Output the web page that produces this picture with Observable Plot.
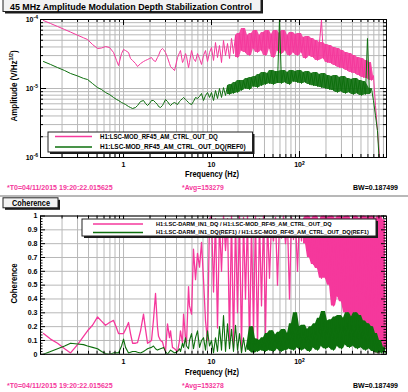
<!DOCTYPE html>
<html><head><meta charset="utf-8">
<script src="https://cdn.jsdelivr.net/npm/d3@7"></script>
<script src="https://cdn.jsdelivr.net/npm/@observablehq/plot@0.6"></script>
<style>
html,body{margin:0;padding:0;background:#fff;}
#wrap{position:relative;width:408px;height:392px;overflow:hidden;}
#wrap svg{position:absolute;left:0;}
</style></head><body><div id="wrap"></div>
<script>
// ---------------- data ----------------
const freqHz = [
0.123,0.148,0.178,0.214,0.250,0.300,0.351,0.390,0.444,0.507,
0.562,0.624,0.693,0.770,0.833,0.877,0.949,1.000,1.054,1.140,
1.200,1.266,1.369,1.443,1.561,1.687,1.778,1.874,1.974,2.080,
2.190,2.310,2.430,2.500,2.630,2.770,2.850,3.000,3.160,3.330,
3.420,3.600,3.800,4.110,4.330,4.440,4.680,4.810,5.070,5.200,
5.480,5.620,5.930,6.240,6.580,6.930,7.310,7.700,8.110,8.550,
9.010,9.490,
10.00,10.54,11.10,11.70,12.33,12.99,13.69,14.43,15.20,16.02,
16.88,17.78,18.74,19.74,20.81,21.93,23.10,24.34,25.65,27.03,
28.48,30.01,31.62,33.32,35.11,37.00,38.99,41.08,43.29,45.61,
48.06,50.65,53.37,56.23,59.25,62.43,65.79,69.32,73.05,76.97,
81.11,85.46,90.06,94.90,100.0,105.4,111.0,117.0,123.3,129.9,
136.9,144.3,152.0,160.2,168.8,177.8,187.4,197.4,208.1,219.3,
231.0,243.4,256.5,270.3,284.8,300.1,316.2,333.2,351.1,370.0,
389.9,410.8,432.9,456.1,480.6,506.5,533.7,562.3,592.5,624.3,
657.9,693.2,730.5,769.7,811.1,854.6,900.6,949.0];

// Amplitude, V/sqrt(Hz): H1:LSC-MOD_RF45_AM_CTRL_OUT_DQ
const ampCtrlOut = [
9.67e-5,8.75e-5,7.92e-5,7.16e-5,6.57e-5,5.92e-5,5.43e-5,5.13e-5,4.34e-5,3.80e-5,
3.86e-5,4.06e-5,3.93e-5,3.32e-5,2.55e-5,2.15e-5,3.21e-5,3.67e-5,3.55e-5,3.32e-5,
2.72e-5,2.55e-5,2.30e-5,2.08e-5,2.30e-5,2.46e-5,2.55e-5,2.63e-5,2.72e-5,2.81e-5,
2.55e-5,2.46e-5,2.81e-5,3.01e-5,3.55e-5,3.80e-5,3.67e-5,3.32e-5,2.81e-5,2.30e-5,
2.08e-5,1.95e-5,1.82e-5,2.81e-5,3.32e-5,3.55e-5,2.38e-5,2.55e-5,3.21e-5,2.91e-5,
2.01e-5,2.38e-5,3.55e-5,2.72e-5,2.46e-5,3.21e-5,2.72e-5,2.23e-5,3.01e-5,3.55e-5,
2.46e-5,3.32e-5,
3.93e-5,2.55e-5,4.64e-5,2.81e-5,4.20e-5,2.38e-5,4.96e-5,3.01e-5,4.49e-5,2.72e-5,
5.31e-5,3.21e-5,5.86e-5,2.81e-5,6.27e-5,3.55e-5,7.41e-5,3.32e-5,5.86e-5,3.01e-5,
6.27e-5,3.80e-5,6.93e-5,3.32e-5,5.86e-5,3.55e-5,6.48e-5,3.01e-5,6.93e-5,3.80e-5,
6.06e-5,2.81e-5,6.93e-5,3.55e-5,6.27e-5,3.21e-5,6.93e-5,3.55e-5,5.86e-5,3.01e-5,
6.48e-5,3.32e-5,6.06e-5,3.01e-5,6.27e-5,3.32e-5,5.48e-5,2.72e-5,5.67e-5,3.01e-5,
5.31e-5,2.81e-5,4.96e-5,2.55e-5,4.64e-5,1.00e-4,2.72e-5,4.34e-5,2.38e-5,4.20e-5,
2.30e-5,3.93e-5,2.15e-5,3.80e-5,2.01e-5,3.55e-5,1.95e-5,3.32e-5,1.82e-5,3.21e-5,
1.71e-5,3.01e-5,1.65e-5,2.81e-5,1.54e-5,2.72e-5,1.44e-5,2.55e-5,1.40e-5,2.38e-5,
1.31e-5,1.54e-5,5.67e-6,2.46e-6,1.07e-6,5.48e-7,3.93e-7,3.32e-7];

// Amplitude, V/sqrt(Hz): H1:LSC-MOD_RF45_AM_CTRL_OUT_DQ(REF0)
const ampCtrlOutRef0 = [
2.46e-5,2.23e-5,2.01e-5,1.82e-5,1.65e-5,1.52e-5,1.40e-5,1.35e-5,1.18e-5,1.03e-5,
9.67e-6,8.75e-6,8.18e-6,7.41e-6,6.93e-6,6.70e-6,6.27e-6,6.06e-6,5.86e-6,5.48e-6,
5.30e-6,5.13e-6,5.30e-6,5.67e-6,6.48e-6,6.70e-6,6.06e-6,5.67e-6,6.06e-6,6.70e-6,
6.70e-6,6.27e-6,5.86e-6,5.48e-6,5.30e-6,5.67e-6,6.06e-6,6.93e-6,6.48e-6,5.86e-6,
5.67e-6,6.06e-6,6.27e-6,5.86e-6,6.48e-6,6.70e-6,7.16e-6,7.41e-6,6.93e-6,6.70e-6,
6.27e-6,6.06e-6,5.86e-6,6.48e-6,7.41e-6,7.16e-6,7.66e-6,8.46e-6,6.70e-6,7.92e-6,
8.75e-6,7.41e-6,
8.75e-6,6.70e-6,9.35e-6,7.16e-6,1.00e-5,7.41e-6,1.03e-5,7.92e-6,1.10e-5,8.18e-6,
1.14e-5,8.46e-6,1.22e-5,8.75e-6,1.31e-5,9.35e-6,1.31e-5,1.00e-5,1.40e-5,9.67e-6,
1.44e-5,1.07e-5,1.49e-5,1.03e-5,1.60e-5,1.10e-5,1.71e-5,1.14e-5,1.65e-5,1.18e-5,
1.82e-5,1.14e-5,1.76e-5,1.22e-5,1.00e-4,1.18e-5,1.82e-5,1.22e-5,1.71e-5,1.14e-5,
1.82e-5,1.26e-5,1.76e-5,1.22e-5,1.82e-5,1.18e-5,1.71e-5,1.22e-5,1.76e-5,1.14e-5,
1.65e-5,1.10e-5,1.71e-5,1.07e-5,1.60e-5,1.03e-5,1.65e-5,1.00e-5,1.54e-5,9.67e-6,
1.49e-5,9.35e-6,1.54e-5,8.75e-6,1.44e-5,9.05e-6,1.49e-5,8.46e-6,1.40e-5,8.75e-6,
1.35e-5,8.18e-6,1.40e-5,8.46e-6,1.31e-5,7.92e-6,1.26e-5,8.18e-6,5.31e-5,8.46e-6,
1.00e-5,6.70e-6,4.06e-6,2.46e-6,7.66e-7,3.32e-7,3.32e-7,3.32e-7];

// Coherence: H1:LSC-DARM_IN1_DQ / H1:LSC-MOD_RF45_AM_CTRL_OUT_DQ
const cohDarmCtrl = [
0.15,0.11,0.08,0.04,0.01,0.07,0.13,0.17,0.21,0.27,
0.24,0.21,0.23,0.245,0.19,0.15,0.15,0.15,0.18,0.23,
0.15,0.08,0.08,0.085,0.17,0.29,0.18,0.08,0.09,0.10,
0.25,0.44,0.20,0.13,0.10,0.09,0.06,0.02,0.22,0.12,
0.17,0.05,0.04,0.02,0.10,0.17,0.08,0.29,0.12,0.08,
0.49,0.35,0.29,0.76,0.54,0.73,0.63,0.81,0.54,0.24,
0.10,0.98,
1.00,0.45,0.98,0.19,0.95,0.60,1.00,0.75,0.98,0.10,
1.00,0.05,0.97,0.30,1.00,0.02,0.99,0.40,1.00,0.03,
0.95,0.15,1.00,0.05,0.98,0.35,1.00,0.15,0.97,0.55,
0.95,0.82,0.99,0.50,0.96,0.84,1.00,0.80,0.95,0.40,
0.99,0.83,0.97,0.60,1.00,0.82,0.98,0.80,1.00,0.70,
0.98,0.65,1.00,0.62,0.97,0.55,1.00,0.55,0.99,0.50,
1.00,0.35,0.98,0.42,1.00,0.38,0.99,0.30,1.00,0.28,
0.97,0.20,1.00,0.20,0.98,0.15,1.00,0.10,0.99,0.06,
1.00,0.03,0.98,0.01,1.00,0.02,0.97,0.05];

// Coherence: H1:LSC-DARM_IN1_DQ(REF1) / H1:LSC-MOD_RF45_AM_CTRL_OUT_DQ(REF1)
const cohDarmCtrlRef1 = [
0.00,0.02,0.04,0.06,0.08,0.075,0.07,0.06,0.05,0.04,
0.02,0.005,0.00,0.01,0.01,0.01,0.06,0.11,0.05,0.01,
0.015,0.02,0.02,0.015,0.01,0.02,0.03,0.04,0.045,0.05,
0.06,0.04,0.03,0.035,0.04,0.045,0.05,0.02,0.00,0.02,
0.03,0.02,0.01,0.02,0.04,0.02,0.08,0.05,0.12,0.06,
0.04,0.10,0.15,0.04,0.12,0.17,0.05,0.10,0.12,0.03,
0.17,0.06,
0.10,0.01,0.12,0.02,0.20,0.03,0.28,0.02,0.22,0.04,
0.18,0.02,0.21,0.03,0.15,0.01,0.12,0.02,0.10,0.03,
0.20,0.01,0.11,0.02,0.10,0.03,0.12,0.02,0.15,0.03,
0.17,0.02,0.14,0.04,0.16,0.02,0.18,0.03,0.15,0.04,
0.22,0.03,0.30,0.05,0.20,0.03,0.21,0.04,0.18,0.02,
0.20,0.05,0.22,0.03,0.26,0.06,0.31,0.04,0.24,0.05,
0.25,0.03,0.27,0.06,0.28,0.04,0.26,0.07,0.30,0.05,
0.27,0.06,0.30,0.04,0.28,0.05,0.24,0.03,0.22,0.04,
0.20,0.02,0.15,0.01,0.10,0.01,0.05,0.01];

const freqTicks = [1, 10, 100];
const freqTickLabels = ["1", "10", "10^2"];
const ampTicks = [1e-4, 1e-5, 1e-6];
const ampTickLabels = ["10^-4", "10^-5", "10^-6"];
const cohTicks = [0, 0.1, 0.2, 0.3, 0.4, 0.5, 0.6, 0.7, 0.8, 0.9, 1];
const cohTickLabels = ["0", "0.1", "0.2", "0.3", "0.4", "0.5", "0.6", "0.7", "0.8", "0.9", "1"];
const legendAmp = ["H1:LSC-MOD_RF45_AM_CTRL_OUT_DQ", "H1:LSC-MOD_RF45_AM_CTRL_OUT_DQ(REF0)"];
const legendCoh = ["H1:LSC-DARM_IN1_DQ / H1:LSC-MOD_RF45_AM_CTRL_OUT_DQ",
                   "H1:LSC-DARM_IN1_DQ(REF1) / H1:LSC-MOD_RF45_AM_CTRL_OUT_DQ(REF1)"];
const texts = {
  title: "45 MHz Amplitude Modulation Depth Stabilization Control",
  cohTitle: "Coherence",
  ampAxis: "Amplitude (V/Hz",
  ampAxisSup: "1/2",
  cohAxis: "Coherence",
  freqAxis: "Frequency (Hz)",
  t0: "*T0=04/11/2015 19:20:22.015625",
  avgAmp: "*Avg=153279",
  avgCoh: "*Avg=153278",
  bw: "BW=0.187499"
};

// ---------------- style ----------------
const FONT = '"Liberation Sans", Arial, Helvetica, sans-serif';
const PINK = "#f5389c";
const GREEN = "#0d6f0d";
const GRID = "#b8b8b8";
const xDomain = [0.1138, 975];

const rows = freqHz.map((f, i) => ({
  f, ampCur: ampCtrlOut[i], ampRef: ampCtrlOutRef0[i],
  cohCur: cohDarmCtrl[i], cohRef: cohDarmCtrlRef1[i]
}));

const xMinor = [];
for (const dec of [0.1, 1, 10, 100]) for (let m = 2; m <= 9; m++) {
  const v = +(m * dec).toPrecision(3);
  if (v > xDomain[0] && v < xDomain[1]) xMinor.push(v);
}
const ampMinor = [];
for (const dec of [1e-6, 1e-5]) for (let m = 2; m <= 9; m++) ampMinor.push(+(m * dec).toPrecision(3));
const cohMinor = [];
for (let i = 0; i <= 50; i++) if (i % 5 !== 0) cohMinor.push(i / 50);

// noisy band: envelope of neighbouring values (library window transform);
// isolated line spikes (above `cap`) are left to the thin line only
function band(yField, fmin, fmax, cap, color, opacity = 1) {
  return Plot.areaY(rows, Plot.map(
    {y1: Plot.window({k: 3, reduce: "min"}), y2: Plot.window({k: 3, reduce: "max"})},
    {x: "f", y1: yField, y2: yField,
     filter: d => d.f >= fmin && d.f <= fmax && d[yField] <= cap,
     fill: color, fillOpacity: opacity, clip: true}
  ));
}

function frameTicks(yMaj, yMin, plotW, plotH, yMajLen, yMinLen) {
  const s = {stroke: "#000", strokeWidth: 1, strokeOpacity: 1};
  return [
    Plot.tickX(freqTicks, {...s, insetTop: plotH - 6}),
    Plot.tickX(freqTicks, {...s, insetBottom: plotH - 6}),
    Plot.tickX(xMinor, {...s, insetTop: plotH - 3}),
    Plot.tickX(xMinor, {...s, insetBottom: plotH - 3}),
    Plot.tickY(yMaj, {...s, insetRight: plotW - yMajLen}),
    Plot.tickY(yMaj, {...s, insetLeft: plotW - yMajLen}),
    Plot.tickY(yMin, {...s, insetRight: plotW - yMinLen}),
    Plot.tickY(yMin, {...s, insetLeft: plotW - yMinLen})
  ];
}

function supify(svg) {
  d3.select(svg).selectAll("text").each(function () {
    const t = this.textContent;
    if (t.includes("^")) {
      const [b, e] = t.split("^");
      this.textContent = "";
      const s = d3.select(this);
      s.append("tspan").text(b);
      s.append("tspan").attr("dy", "-0.45em").attr("font-size", "72%").text(e);
    }
  });
}

const wrap = document.getElementById("wrap");
const W = 408, H = 196, ML = 40, MR = 22;
const plotW = W - ML - MR;

// top panel
const topMT = 19, topMB = 39, topPH = H - topMT - topMB;
const topPlot = Plot.plot({
  width: W, height: H, marginLeft: ML, marginRight: MR, marginTop: topMT, marginBottom: topMB,
  style: {background: "none", overflow: "visible", fontFamily: FONT},
  x: {type: "log", domain: xDomain, axis: null, label: null},
  y: {type: "log", domain: [1e-6, 1e-4], axis: null, label: null},
  marks: [
    Plot.gridX([...freqTicks, ...xMinor], {stroke: GRID, strokeOpacity: 1}),
    Plot.gridY([...ampTicks, ...ampMinor], {stroke: GRID, strokeOpacity: 1}),
    band("ampCur", 18, 700, 8e-5, PINK, 0.9),
    Plot.line(rows, {x: "f", y: "ampCur", stroke: PINK, strokeWidth: 1, clip: true}),
    band("ampRef", 15, 660, 3e-5, GREEN, 0.9),
    Plot.line(rows, {x: "f", y: "ampRef", stroke: GREEN, strokeWidth: 1, clip: true}),
    ...frameTicks(ampTicks, ampMinor, plotW, topPH, 6, 3),
    Plot.frame({stroke: "#000"}),
    Plot.axisX(freqTicks, {anchor: "bottom", tickSize: 0, tickPadding: 4.5, label: null,
      tickFormat: d => freqTickLabels[freqTicks.indexOf(d)], fontSize: 7, fontWeight: "bold"}),
    Plot.axisY(ampTicks, {anchor: "left", tickSize: 0, tickPadding: 2.5, label: null,
      tickFormat: d => ampTickLabels[ampTicks.indexOf(d)], fontSize: 7, fontWeight: "bold"})
  ]
});
topPlot.style.top = "0px";
wrap.appendChild(topPlot);
supify(topPlot);

// bottom panel
const botMT = 19.5, botMB = 38.2, botPH = H - botMT - botMB;
const botPlot = Plot.plot({
  width: W, height: H, marginLeft: ML, marginRight: MR, marginTop: botMT, marginBottom: botMB,
  style: {background: "none", overflow: "visible", fontFamily: FONT},
  x: {type: "log", domain: xDomain, axis: null, label: null},
  y: {type: "linear", domain: [0, 1], axis: null, label: null},
  marks: [
    Plot.gridX([...freqTicks, ...xMinor], {stroke: GRID, strokeOpacity: 1}),
    Plot.gridY(cohTicks, {stroke: GRID, strokeOpacity: 1}),
    band("cohCur", 110, 1000, 1, PINK),
    Plot.line(rows, {x: "f", y: "cohCur", stroke: PINK, strokeWidth: 1.3, clip: true}),
    band("cohRef", 25, 1000, 1, GREEN),
    Plot.line(rows, {x: "f", y: "cohRef", stroke: GREEN, strokeWidth: 1.1, clip: true}),
    ...frameTicks(cohTicks, cohMinor, plotW, botPH, 5, 2.5),
    Plot.frame({stroke: "#000"}),
    Plot.axisX(freqTicks, {anchor: "bottom", tickSize: 0, tickPadding: 4.5, label: null,
      tickFormat: d => freqTickLabels[freqTicks.indexOf(d)], fontSize: 7, fontWeight: "bold"}),
    Plot.axisY(cohTicks, {anchor: "left", tickSize: 0, tickPadding: 3, label: null,
      tickFormat: d => cohTickLabels[cohTicks.indexOf(d)], fontSize: 7, fontWeight: "bold"})
  ]
});
botPlot.style.top = H + "px";
wrap.appendChild(botPlot);
supify(botPlot);

// ---------------- overlay: titles, legends, footers ----------------
const ov = d3.select(wrap).append("svg")
  .attr("width", W).attr("height", 392)
  .style("position", "absolute").style("left", "0px").style("top", "0px")
  .attr("font-family", FONT);

ov.append("line").attr("x1", 0).attr("x2", W).attr("y1", 196).attr("y2", 196)
  .attr("stroke", "#a0a0a0").attr("stroke-width", 1.5);

function box(x, y, w, h, fill) {
  ov.append("rect").attr("x", x + 2).attr("y", y + 2).attr("width", w).attr("height", h).attr("fill", "#1a1a1a");
  ov.append("rect").attr("x", x).attr("y", y).attr("width", w).attr("height", h)
    .attr("fill", fill).attr("stroke", "#222").attr("stroke-width", 1);
}

function label(str, {x, y, size, w, fill = "#000", rot = 0, sup = null, anchor = "start"}) {
  const g = ov.append("g").attr("transform", `translate(${x},${y}) rotate(${rot})`);
  const t = g.append("text").attr("font-size", size).attr("font-weight", "bold")
    .attr("fill", fill).attr("text-anchor", anchor);
  t.append("tspan").text(str);
  if (sup) {
    t.append("tspan").attr("dy", -size * 0.42).attr("font-size", size * 0.68).text(sup);
    t.append("tspan").attr("dy", size * 0.42).text(")");
  }
  if (w) {
    const w0 = t.node().getComputedTextLength();
    if (w0 > 0) t.attr("transform", `scale(${w / w0},1)`);
  }
}

function legendLine(x1, x2, y, color) {
  ov.append("line").attr("x1", x1).attr("x2", x2).attr("y1", y).attr("y2", y)
    .attr("stroke", color).attr("stroke-width", 1.6);
}

// title boxes
box(3, -2, 258, 13.5, "#f2f2f2");
label(texts.title, {x: 10, y: 9.6, size: 9.3, w: 242});
box(3, 197.8, 55, 10, "#f2f2f2");
label(texts.cohTitle, {x: 12, y: 205.7, size: 8.2, w: 38});

// axis titles
label(texts.ampAxis, {x: 16.5, y: 121.5, size: 8.4, w: 71, rot: -90, sup: texts.ampAxisSup});
label(texts.cohAxis, {x: 16.5, y: 303.5, size: 8.4, w: 40, rot: -90});
label(texts.freqAxis, {x: 185, y: 176.5, size: 8.6, w: 54});
label(texts.freqAxis, {x: 185, y: 374.8, size: 8.6, w: 54});

// footers
label(texts.t0, {x: 7, y: 190, size: 7, w: 106, fill: PINK});
label(texts.avgAmp, {x: 182, y: 190, size: 7, w: 42, fill: PINK});
label(texts.bw, {x: 353, y: 190, size: 7, w: 45});
label(texts.t0, {x: 7, y: 387.5, size: 7, w: 106, fill: PINK});
label(texts.avgCoh, {x: 182, y: 387.5, size: 7, w: 42, fill: PINK});
label(texts.bw, {x: 353, y: 387.5, size: 7, w: 45});

// legends
box(48, 132, 204.5, 20, "#fff");
legendLine(55, 92, 136.5, PINK);
legendLine(55, 92, 147, GREEN);
label(legendAmp[0], {x: 100, y: 138.7, size: 6.6, w: 118});
label(legendAmp[1], {x: 100, y: 149.3, size: 6.6, w: 146});

box(82, 219, 294, 17, "#fff");
legendLine(93, 143, 224, PINK);
legendLine(93, 143, 232.5, GREEN);
label(legendCoh[0], {x: 156, y: 225.9, size: 5.9, w: 176});
label(legendCoh[1], {x: 156, y: 234.4, size: 5.9, w: 213});
</script></body></html>
